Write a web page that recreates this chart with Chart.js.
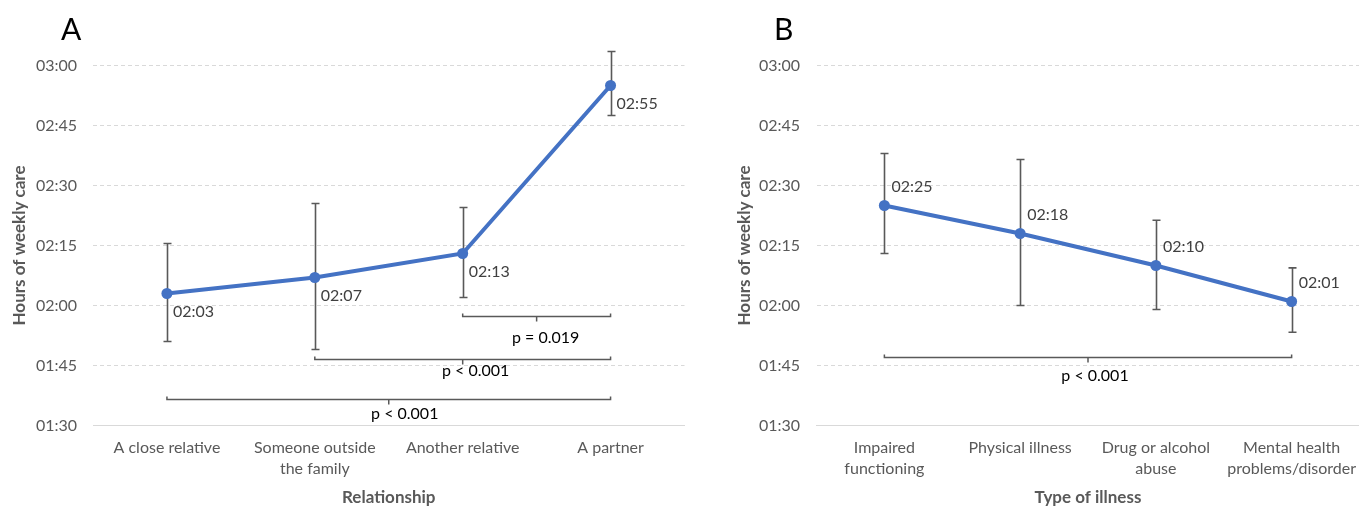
<!DOCTYPE html>
<html><head><meta charset="utf-8">
<script src="https://cdn.jsdelivr.net/npm/chart.js@4.4.1/dist/chart.umd.min.js"></script>
<style>
html,body{margin:0;padding:0;background:#fff;width:1359px;height:506px;overflow:hidden;}
#wrap{position:relative;width:1359px;height:506px;overflow:hidden;}
.panel{position:absolute;top:0;height:506px;}
.letter{position:absolute;font-family:Lato, sans-serif;font-size:30px;color:#000;line-height:1;}
</style></head><body>
<div id="wrap">
<div class="panel" style="left:0;width:690px"><canvas id="cA"></canvas></div>
<div class="panel" style="left:725px;width:640px"><canvas id="cB"></canvas></div>
<div class="letter" style="left:61px;top:13px">A</div>
<div class="letter" style="left:774px;top:13px">B</div>
</div>
<script>
// ---- Data (minutes) ----
const relCategories = ['A close relative', ['Someone outside', 'the family'], 'Another relative', 'A partner'];
const relMeans = [123, 127, 133, 175];
const relUpper = [135.5, 145.5, 144.5, 183.5];
const relLower = [111, 109, 122, 167.5];
const relBracketFrom = [2, 1, 0];
const relBracketTo = [3, 3, 3];
const relBracketLevel = [117.5, 106.6, 96.6];
const relBracketLabel = ['p = 0.019', 'p < 0.001', 'p < 0.001'];

const illCategories = [['Impaired', 'functioning'], 'Physical illness', ['Drug or alcohol', 'abuse'], ['Mental health', 'problems/disorder']];
const illMeans = [145, 138, 130, 121];
const illUpper = [158, 156.5, 141.3, 129.4];
const illLower = [133, 120, 119, 113.3];
const illBracketFrom = [0];
const illBracketTo = [3];
const illBracketLevel = [107.2];
const illBracketLabel = ['p < 0.001'];

const yTickMin = 90, yTickMax = 180, yTickStep = 15;

// ---- styling / annotation placement ----
const relLabelOffset = {dx: 6, dy: 18};
const illLabelOffset = {dx: 7, dy: -19};
const relBracketTextOffset = [{dx: 9, dy: 21}, {dx: 13, dy: 11.5}, {dx: 16, dy: 14.5}];
const illBracketTextOffset = [{dx: 7, dy: 18}];

const FONT = 'Lato, sans-serif';
function fmt(v) {
  const h = Math.floor(v / 60), m = Math.round(v % 60);
  return String(h).padStart(2, '0') + ':' + String(m).padStart(2, '0');
}

function makePlugin(o) {
  return {
    id: 'extras_' + o.id,
    beforeDatasetsDraw(chart) {
      const {ctx, scales: {x, y}} = chart;
      ctx.save();
      ctx.strokeStyle = '#595959';
      ctx.lineWidth = 1.6;
      o.upper.forEach((u, i) => {
        const px = Math.round(x.getPixelForValue(i)) + 0.5;
        const yu = y.getPixelForValue(u), yl = y.getPixelForValue(o.lower[i]);
        ctx.beginPath();
        ctx.moveTo(px, yu); ctx.lineTo(px, yl);
        ctx.moveTo(px - 4, yu); ctx.lineTo(px + 4, yu);
        ctx.moveTo(px - 4, yl); ctx.lineTo(px + 4, yl);
        ctx.stroke();
      });
      ctx.restore();
    },
    afterDatasetsDraw(chart) {
      const {ctx, scales: {x, y}} = chart;
      ctx.save();
      // data labels
      ctx.font = '16px ' + FONT;
      ctx.fillStyle = '#404040';
      ctx.textAlign = 'left';
      ctx.textBaseline = 'middle';
      o.means.forEach((v, i) => {
        ctx.fillText(fmt(v), x.getPixelForValue(i) + o.labelOffset.dx, y.getPixelForValue(v) + o.labelOffset.dy);
      });
      // brackets
      ctx.strokeStyle = '#595959';
      ctx.lineWidth = 1.5;
      o.bFrom.forEach((f, k) => {
        const x1 = x.getPixelForValue(f), x2 = x.getPixelForValue(o.bTo[k]);
        const yy = Math.round(y.getPixelForValue(o.bLevel[k])) + 0.5;
        const xm = (x1 + x2) / 2;
        ctx.beginPath();
        ctx.moveTo(x1, yy - 3); ctx.lineTo(x1, yy); ctx.lineTo(x2, yy); ctx.lineTo(x2, yy - 3);
        ctx.moveTo(xm, yy); ctx.lineTo(xm, yy + 5);
        ctx.stroke();
        ctx.fillStyle = '#000';
        ctx.textAlign = 'center';
        ctx.fillText(o.bLabel[k], xm + o.bText[k].dx, yy + o.bText[k].dy);
      });
      ctx.restore();
    }
  };
}

function makeChart(id, cats, means, opts) {
  return new Chart(document.getElementById(id), {
    type: 'line',
    data: {
      labels: cats,
      datasets: [{
        data: means,
        borderColor: '#4472C4',
        backgroundColor: '#4472C4',
        borderWidth: 4,
        pointRadius: 5.5,
        pointBackgroundColor: '#4472C4',
        pointBorderWidth: 0,
        tension: 0,
        fill: false
      }]
    },
    options: {
      responsive: true,
      maintainAspectRatio: false,
      animation: false,
      events: [],
      layout: {padding: {top: 65.5, left: 0, right: opts.padRight, bottom: 0}},
      plugins: {legend: {display: false}, tooltip: {enabled: false}, title: {display: false}},
      scales: {
        x: {
          offset: true,
          grid: {display: false, drawTicks: false},
          border: {display: true, color: '#D9D9D9', width: 1},
          ticks: {color: '#595959', font: {family: FONT, size: 16, lineHeight: 1.3}, padding: 12, maxRotation: 0, autoSkip: false},
          title: {display: true, text: opts.xTitle, color: '#595959', font: {family: FONT, size: 17, weight: 'bold', lineHeight: 1}, padding: {top: 0, bottom: 0}},
          afterFit(s) { s.height = 80.5; s.paddingLeft = 0; s.paddingRight = 0; }
        },
        y: {
          min: yTickMin, max: yTickMax,
          ticks: {stepSize: yTickStep, color: '#595959', font: {family: FONT, size: 16}, padding: opts.tickPad, callback: v => fmt(v)},
          grid: {color: c => (c.tick && c.tick.value === yTickMin) ? 'rgba(0,0,0,0)' : '#D9D9D9', drawTicks: false, lineWidth: 1},
          border: {display: false, dash: [4, 3]},
          title: {display: true, text: 'Hours of weekly care', color: '#595959', font: {family: FONT, size: 17, weight: 'bold', lineHeight: 1}, padding: {top: 11.5, bottom: 0}},
          afterFit(s) { s.width = opts.yWidth; s.paddingTop = 0; s.paddingBottom = 0; }
        }
      }
    },
    plugins: [makePlugin(opts.plugin)]
  });
}

makeChart('cA', relCategories, relMeans, {
  xTitle: 'Relationship', yWidth: 93, tickPad: 16, padRight: 5,
  plugin: {id: 'A', means: relMeans, upper: relUpper, lower: relLower, labelOffset: relLabelOffset,
    bFrom: relBracketFrom, bTo: relBracketTo, bLevel: relBracketLevel, bLabel: relBracketLabel, bText: relBracketTextOffset}
});
makeChart('cB', illCategories, illMeans, {
  xTitle: 'Type of illness', yWidth: 91.5, tickPad: 16.5, padRight: 0.5,
  plugin: {id: 'B', means: illMeans, upper: illUpper, lower: illLower, labelOffset: illLabelOffset,
    bFrom: illBracketFrom, bTo: illBracketTo, bLevel: illBracketLevel, bLabel: illBracketLabel, bText: illBracketTextOffset}
});
</script>
</body></html>
